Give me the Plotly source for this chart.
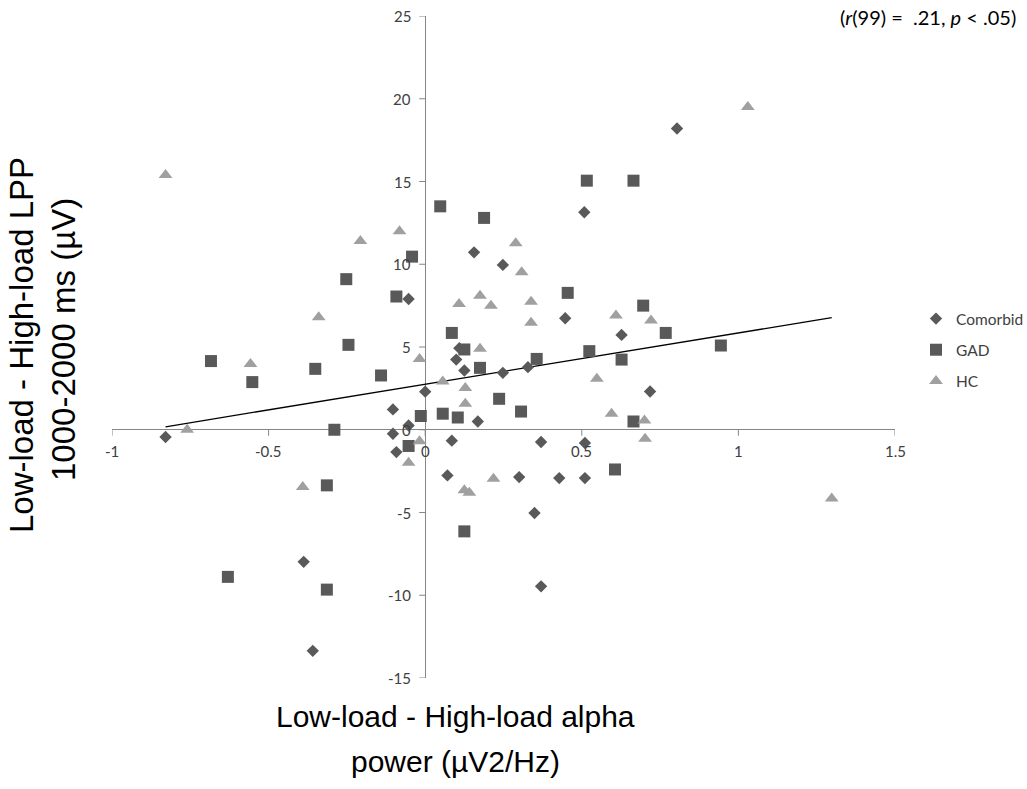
import plotly.graph_objects as go

# ---- data ----
comorbid_x = [-0.053, 0.0, -0.103, -0.053, -0.103, -0.829, -0.092, -0.388, -0.359,
              0.508, 0.156, 0.248, 0.447, 0.627, 0.109, 0.099, 0.125, 0.248, 0.328,
              0.718, 0.168, 0.085, 0.37, 0.51, 0.071, 0.3, 0.428, 0.51, 0.349, 0.37, 0.804]
comorbid_y = [7.9, 2.3, 1.23, 0.26, -0.24, -0.44, -1.35, -7.98, -13.36,
              13.14, 10.72, 9.96, 6.74, 5.73, 4.93, 4.24, 3.58, 3.44, 3.78,
              2.31, 0.5, -0.66, -0.74, -0.8, -2.76, -2.86, -2.92, -2.92, -5.03, -9.46, 18.2]

gad_x = [-0.042, -0.252, -0.092, -0.245, -0.684, -0.552, -0.351, -0.141, -0.014, -0.29,
         -0.053, -0.314, -0.63, -0.314, 0.516, 0.665, 0.048, 0.188, 0.455, 0.696,
         0.085, 0.768, 0.944, 0.125, 0.524, 0.356, 0.627, 0.175, 0.236, 0.056,
         0.104, 0.306, 0.665, 0.606, 0.125]
gad_y = [10.46, 9.1, 8.05, 5.13, 4.15, 2.88, 3.68, 3.28, 0.83, 0.0,
         -0.98, -3.36, -8.89, -9.66, 15.05, 15.05, 13.5, 12.8, 8.27, 7.5,
         5.85, 5.85, 5.09, 4.85, 4.75, 4.28, 4.24, 3.74, 1.87, 0.97,
         0.74, 1.1, 0.5, -2.4, -6.14]

hc_x = [-0.829, -0.082, -0.207, -0.34, -0.558, -0.018, -0.76, -0.018, -0.053, -0.391,
        0.289, 0.308, 0.175, 0.108, 0.21, 0.338, 0.609, 0.721, 0.338, 0.175,
        0.548, 0.056, 0.128, 0.128, 0.595, 0.7, 0.702, 0.218, 0.125, 0.141, 1.03, 1.298]
hc_y = [15.39, 12.0, 11.4, 6.8, 3.98, 4.28, 0.0, -0.7, -2.0, -3.46,
        11.27, 9.52, 8.1, 7.6, 7.5, 7.74, 6.9, 6.6, 6.46, 4.89,
        3.08, 2.92, 2.53, 1.57, 0.97, 0.56, -0.54, -2.96, -3.66, -3.8, 19.5, -4.16]

trend_slope = 3.1
trend_intercept = 2.75

x_ticks = [-1, -0.5, 0, 0.5, 1, 1.5]
x_tick_labels = ["-1", "-0.5", "0", "0.5", "1", "1.5"]
y_ticks = [-15, -10, -5, 0, 5, 10, 15, 20, 25]
y_tick_labels = ["-15", "-10", "-5", "0", "5", "10", "15", "20", "25"]

x_title = ["Low-load - High-load alpha", "power (µV2/Hz)"]
y_title = ["Low-load - High-load LPP", "1000-2000 ms (µV)"]
stat_text = "(<i>r</i>(99) = \u00a0.21, <i>p</i> &lt; .05)"

# ---- figure ----
W, H = 1027, 789
PLOT_L, PLOT_R, PLOT_T, PLOT_B = 112, 895, 16, 678
ML, MR, MT, MB = PLOT_L, W - PLOT_R, PLOT_T, H - PLOT_B
PW, PH = PLOT_R - PLOT_L, PLOT_B - PLOT_T


def px_to_paper_x(px):
    return (px - PLOT_L) / PW


def px_to_paper_y(py):
    return (PLOT_B - py) / PH


DARK = "#595959"
LIGHT = "#a0a0a0"
AXIS = "#868686"
TICKFONT = dict(family="Lato, Open Sans, sans-serif", size=15, color="#404040")

fig = go.Figure()

all_x = comorbid_x + gad_x + hc_x
tx = [min(all_x), max(all_x)]
ty = [trend_intercept + trend_slope * v for v in tx]
fig.add_trace(go.Scatter(x=tx, y=ty, mode="lines", line=dict(color="#000000", width=1.3),
                         showlegend=False, hoverinfo="skip"))

fig.add_trace(go.Scatter(x=comorbid_x, y=comorbid_y, mode="markers", name="Comorbid",
                         legendgroup="a",
                         marker=dict(symbol="diamond", size=9.5, color=DARK)))
fig.add_trace(go.Scatter(x=gad_x, y=gad_y, mode="markers", name="GAD",
                         legendgroup="b",
                         marker=dict(symbol="square", size=12, color=DARK)))
fig.add_trace(go.Scatter(x=hc_x, y=hc_y, mode="markers", name="HC",
                         legendgroup="c",
                         marker=dict(symbol="triangle-up", size=12, color=LIGHT)))

shapes = []
annotations = []
for t, lab in zip(x_ticks, x_tick_labels):
    shapes.append(dict(type="line", xref="x", yref="y", ysizemode="pixel", yanchor=0,
                       x0=t, x1=t, y0=0, y1=-6, line=dict(color=AXIS, width=1)))
    annotations.append(dict(x=t, y=0, xref="x", yref="y", text=lab, showarrow=False,
                            xanchor="center", yanchor="middle", yshift=-21, font=TICKFONT))
for t, lab in zip(y_ticks, y_tick_labels):
    shapes.append(dict(type="line", xref="x", yref="y", xsizemode="pixel", xanchor=0,
                       y0=t, y1=t, x0=0, x1=-6, line=dict(color=AXIS, width=1)))
    annotations.append(dict(x=0, y=t, xref="x", yref="y", text=lab, showarrow=False,
                            xanchor="right", yanchor="middle", xshift=-12, font=TICKFONT))

TITLEFONT = dict(family="Liberation Sans, Arial, sans-serif", size=30, color="#000000")
YTITLEFONT = dict(family="Liberation Sans, Arial, sans-serif", size=33, color="#000000")
annotations.append(dict(x=px_to_paper_x(455), y=px_to_paper_y(716), xref="paper", yref="paper",
                        text=x_title[0], showarrow=False, xanchor="center", yanchor="middle",
                        font=TITLEFONT))
annotations.append(dict(x=px_to_paper_x(455), y=px_to_paper_y(761), xref="paper", yref="paper",
                        text=x_title[1], showarrow=False, xanchor="center", yanchor="middle",
                        font=TITLEFONT))
annotations.append(dict(x=px_to_paper_x(21), y=px_to_paper_y(345), xref="paper", yref="paper",
                        text=y_title[0], showarrow=False, textangle=-90, xanchor="center",
                        yanchor="middle", font=YTITLEFONT))
annotations.append(dict(x=px_to_paper_x(63), y=px_to_paper_y(340), xref="paper", yref="paper",
                        text=y_title[1], showarrow=False, textangle=-90, xanchor="center",
                        yanchor="middle", font=YTITLEFONT))
annotations.append(dict(x=px_to_paper_x(1018), y=px_to_paper_y(17), xref="paper", yref="paper",
                        text=stat_text, showarrow=False, xanchor="right", yanchor="middle",
                        font=dict(family="Lato, Open Sans, sans-serif", size=20, color="#000000")))

fig.update_layout(
    width=W, height=H, autosize=False,
    margin=dict(l=ML, r=MR, t=MT, b=MB, pad=0, autoexpand=False),
    paper_bgcolor="white", plot_bgcolor="white",
    xaxis=dict(range=[-1, 1.5], showgrid=False, showticklabels=False, ticks="",
               showline=False, zeroline=True, zerolinecolor=AXIS, zerolinewidth=1,
               fixedrange=True),
    yaxis=dict(range=[-15, 25], showgrid=False, showticklabels=False, ticks="",
               showline=False, zeroline=True, zerolinecolor=AXIS, zerolinewidth=1,
               fixedrange=True),
    legend=dict(x=px_to_paper_x(916), y=px_to_paper_y(302), xanchor="left", yanchor="top",
                traceorder="grouped", tracegroupgap=8,
                font=dict(family="Lato, Open Sans, sans-serif", size=15.5, color="#404040"),
                bgcolor="rgba(0,0,0,0)"),
    shapes=shapes,
    annotations=annotations,
)

fig.write_html(
    "out.html",
    config={"displayModeBar": False, "staticPlot": True},
    post_script="document.body.style.margin='0px';document.body.style.overflow='hidden';",
)
